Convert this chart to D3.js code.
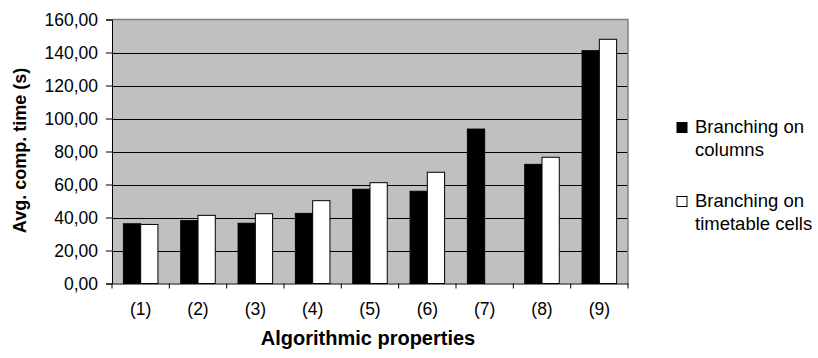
<!DOCTYPE html>
<html>
<head>
<meta charset="utf-8">
<script src="https://cdn.jsdelivr.net/npm/d3@7"></script>
<style>
  html, body { margin: 0; padding: 0; background: #fff; }
  svg { display: block; }
  text { font-family: "Liberation Sans", Arial, sans-serif; fill: #000; }
</style>
</head>
<body>
<svg id="chart" width="818" height="358"></svg>
<script>
const categories = ["(1)", "(2)", "(3)", "(4)", "(5)", "(6)", "(7)", "(8)", "(9)"];
const seriesNames = ["Branching on columns", "Branching on timetable cells"];
const legendLines = [["Branching on", "columns"], ["Branching on", "timetable cells"]];
const columnsValues = [36.2, 38.1, 36.5, 42.5, 57.1, 55.9, 93.6, 72.2, 141.1];
const cellsValues = [35.8, 41.3, 42.3, 50.2, 61.1, 67.4, null, 76.5, 148.0];
const yTicks = [0, 20, 40, 60, 80, 100, 120, 140, 160];
const xTitle = "Algorithmic properties";
const yTitle = "Avg. comp. time (s)";

const seriesValues = [columnsValues, cellsValues];
const fills = ["#000000", "#ffffff"];

const svg = d3.select("#chart");
const pLeft = 112, pRight = 628, pTop = 19.5, pBottom = 283.5;

const x0 = d3.scaleBand().domain(categories).range([pLeft, pRight]).padding(0);
const x1 = d3.scaleBand().domain(d3.range(seriesNames.length))
  .range([0, x0.bandwidth()]).paddingInner(0).paddingOuter(0.66);
const y = d3.scaleLinear().domain([0, 160]).range([pBottom, pTop]);

// plot background
svg.append("rect").attr("x", pLeft).attr("y", pTop)
  .attr("width", pRight - pLeft).attr("height", pBottom - pTop)
  .attr("fill", "#c0c0c0");

// gridlines
svg.append("g").selectAll("line")
  .data(yTicks.filter(t => t > 0 && t < 160))
  .join("line")
  .attr("x1", pLeft).attr("x2", pRight)
  .attr("y1", d => Math.round(y(d)) + 0.5).attr("y2", d => Math.round(y(d)) + 0.5)
  .attr("stroke", "#000").attr("stroke-width", 1);

// plot border (top, right) gray
svg.append("path")
  .attr("d", `M${pLeft},${pTop}H${pRight}V${pBottom}`)
  .attr("fill", "none").attr("stroke", "#808080").attr("stroke-width", 1.5);

// bars
const groups = svg.append("g").selectAll("g")
  .data(categories)
  .join("g")
  .attr("transform", d => `translate(${x0(d)},0)`);

groups.selectAll("rect")
  .data((d, i) => seriesValues.map((s, si) => ({ si, v: s[i] })).filter(e => e.v != null))
  .join("rect")
  .attr("x", d => x1(d.si))
  .attr("width", x1.bandwidth())
  .attr("y", d => y(d.v))
  .attr("height", d => y(0) - y(d.v))
  .attr("fill", d => fills[d.si])
  .attr("stroke", "#000").attr("stroke-width", 1);

// y axis
const yAxis = d3.axisLeft(y).tickValues(yTicks).tickSizeOuter(0).tickSize(6).tickPadding(8)
  .tickFormat(d => d3.format(".2f")(d).replace(".", ","));
const yg = svg.append("g").attr("transform", `translate(${pLeft},0)`).call(yAxis);
yg.select(".domain").attr("stroke", "#000");
yg.selectAll(".tick line").attr("stroke", "#000");
yg.selectAll(".tick text").attr("font-size", "17.5px")
  .attr("font-family", '"Liberation Sans", Arial, sans-serif');

// x axis
const xAxis = d3.axisBottom(x0).tickSize(0).tickSizeOuter(0).tickPadding(19);
const xg = svg.append("g").attr("transform", `translate(0,${pBottom})`).call(xAxis);
xg.select(".domain").attr("stroke", "#000");
xg.selectAll(".tick text").attr("font-size", "17.5px")
  .attr("font-family", '"Liberation Sans", Arial, sans-serif');
// category boundary tick marks
svg.append("g").selectAll("line")
  .data(categories.concat([null]))
  .join("line")
  .attr("x1", (d, i) => i < categories.length ? x0(d) : pRight)
  .attr("x2", (d, i) => i < categories.length ? x0(d) : pRight)
  .attr("y1", pBottom).attr("y2", pBottom + 5)
  .attr("stroke", "#000");

// axis titles
svg.append("text").attr("x", (pLeft + pRight) / 2 - 2).attr("y", 345)
  .attr("text-anchor", "middle").attr("font-weight", "bold")
  .attr("font-size", "20px").text(xTitle);

svg.append("text")
  .attr("transform", `translate(26,${(pTop + pBottom) / 2 - 1}) rotate(-90)`)
  .attr("text-anchor", "middle").attr("font-weight", "bold")
  .attr("font-size", "18px").text(yTitle);

// legend
const legendY = [132.5, 206.5];
const lg = svg.append("g");
seriesNames.forEach((name, i) => {
  lg.append("rect").attr("x", 677).attr("y", legendY[i] - 10)
    .attr("width", 10).attr("height", 10)
    .attr("fill", fills[i]).attr("stroke", "#000").attr("stroke-width", 1);
  const t = lg.append("text").attr("x", 695).attr("y", legendY[i]).attr("font-size", "18.5px");
  legendLines[i].forEach((ln, k) => {
    t.append("tspan").attr("x", 695).attr("dy", k === 0 ? 0 : 23.5).text(ln);
  });
});
</script>
</body>
</html>
